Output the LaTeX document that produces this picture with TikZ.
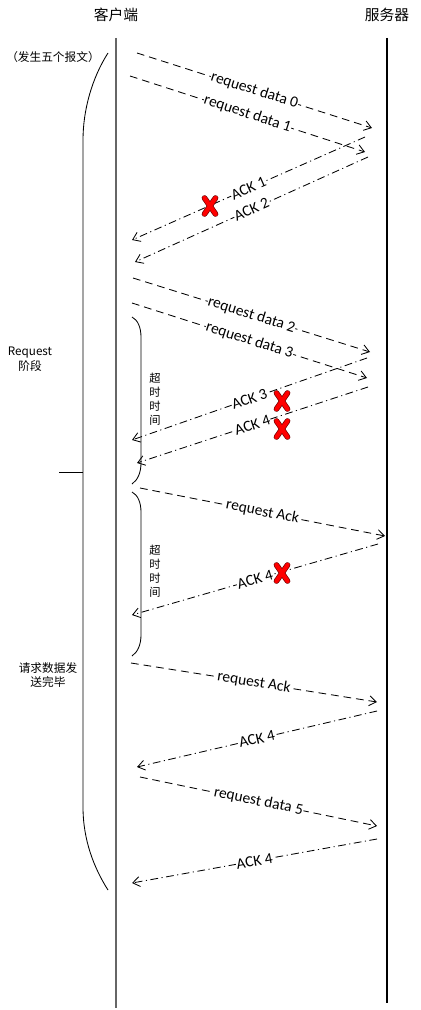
\documentclass[tikz,border=0pt]{standalone}
\usepackage{fontspec}
\setmainfont{Carlito}
\newfontfamily\cjk{Noto Sans CJK SC}
\usetikzlibrary{arrows.meta}

\begin{document}
\begin{tikzpicture}[
  x=0.025cm, y=-0.025cm,
  font=\fontsize{11}{13}\selectfont,
  actor/.style={font=\cjk\fontsize{10.5}{12}\selectfont},
  note/.style={font=\cjk\fontsize{8.3}{10.5}\selectfont, align=center},
  vnote/.style={font=\cjk\fontsize{8}{10}\selectfont, align=center},
  lifeline/.style={line width=0.9pt},
  req/.style={-{Straight Barb[length=5pt,width=7pt]}, line width=0.6pt, dash pattern=on 5.5pt off 3.5pt},
  ack/.style={-{Straight Barb[length=5pt,width=7pt]}, line width=0.6pt, dash pattern=on 5.5pt off 2.5pt on 0.8pt off 2.5pt},
  msg/.style={sloped, fill=white, inner sep=0.4pt},
  brk/.style={line width=0.6pt},
  lost/.pic={
    \draw[line width=4pt, red!45!black, line cap=round] (-5.5,-8) -- (5.5,8) (-5.5,8) -- (5.5,-8);
    \draw[line width=3pt, red, line cap=round] (-5.5,-8) -- (5.5,8) (-5.5,8) -- (5.5,-8);
  }
]
\useasboundingbox (0,0) rectangle (420,1010);

% Actors and lifelines
\node[actor] (client) at (116,15) {客户端};
\node[actor] (server) at (387,15) {服务器};
\coordinate (ctop) at (116,38);  \coordinate (cbot) at (116,1008);
\coordinate (stop) at (387,38);  \coordinate (sbot) at (387,1003);
\draw[lifeline, black!60] (ctop) -- (cbot);
\draw[lifeline] (stop) -- (sbot);

% Phase brace and notes
\draw[brk] (108,53) .. controls (92,78) and (83,110) .. (83,140) -- (83,807)
  .. controls (83,840) and (94,868) .. (108,890);
\draw[brk] (59,472) -- (83,472);
\node[note] (five) at (53,57) {（发生五个报文）};
\node[note] (phase) at (30,359) {Request\\阶段};
\node[note] (done) at (48,675) {请求数据发\\送完毕};

% Request data 0/1 and ACK 1/2
\coordinate (cl0) at (137,53);  \coordinate (sv0) at (372,128);
\coordinate (cl1) at (130,76);  \coordinate (sv1) at (365,152);
\coordinate (sv2) at (365,137); \coordinate (cl2) at (132,240);
\coordinate (sv3) at (368,157); \coordinate (cl3) at (135,262);
\draw[req] (cl0) -- node[msg] {request data 0} (sv0);
\draw[req] (cl1) -- node[msg] {request data 1} (sv1);
\draw[ack] (sv2) -- node[msg] {ACK 1} (cl2);
\draw[ack] (sv3) -- node[msg] {ACK 2} (cl3);
\pic at (210,206) {lost};

% Request data 2/3, ACK 3/4 lost
\coordinate (cl4) at (133,278); \coordinate (sv4) at (370,352);
\coordinate (cl5) at (132,303); \coordinate (sv5) at (367,378);
\coordinate (sv6) at (367,358); \coordinate (cl6) at (132,440);
\coordinate (sv7) at (368,387); \coordinate (cl7) at (137,463);
\draw[req] (cl4) -- node[msg] {request data 2} (sv4);
\draw[req] (cl5) -- node[msg] {request data 3} (sv5);
\draw[ack] (sv6) -- node[msg] {ACK 3} (cl6);
\draw[ack] (sv7) -- node[msg] {ACK 4} (cl7);
\pic at (282,401) {lost};
\pic at (282,429) {lost};

% Timeout 1
\draw[brk] (132,317) .. controls (138,320) and (141,328) .. (141,337) -- (141,463)
  .. controls (141,472) and (138,480) .. (132,484);
\node[vnote] (tout1) at (155,399) {超\\时\\时\\间};

% Request Ack, ACK 4 lost
\coordinate (cl8) at (140,488); \coordinate (sv8) at (385,536);
\coordinate (sv9) at (378,544); \coordinate (cl9) at (132,615);
\draw[req] (cl8) -- node[msg] {request Ack} (sv8);
\draw[ack] (sv9) -- node[msg] {ACK 4} (cl9);
\pic at (282,573) {lost};

% Timeout 2
\draw[brk] (132,492) .. controls (138,495) and (141,503) .. (141,512) -- (141,635)
  .. controls (141,644) and (138,652) .. (132,656);
\node[vnote] (tout2) at (155,571) {超\\时\\时\\间};

% Request Ack again, ACK 4, data 5, ACK 4
\coordinate (cl10) at (131,663); \coordinate (sv10) at (377,702);
\coordinate (sv11) at (377,711); \coordinate (cl11) at (137,767);
\coordinate (cl12) at (140,777); \coordinate (sv12) at (377,826);
\coordinate (sv13) at (377,839); \coordinate (cl13) at (132,883);
\draw[req] (cl10) -- node[msg] {request Ack} (sv10);
\draw[ack] (sv11) -- node[msg] {ACK 4} (cl11);
\draw[req] (cl12) -- node[msg] {request data 5} (sv12);
\draw[ack] (sv13) -- node[msg] {ACK 4} (cl13);

\end{tikzpicture}
\end{document}
